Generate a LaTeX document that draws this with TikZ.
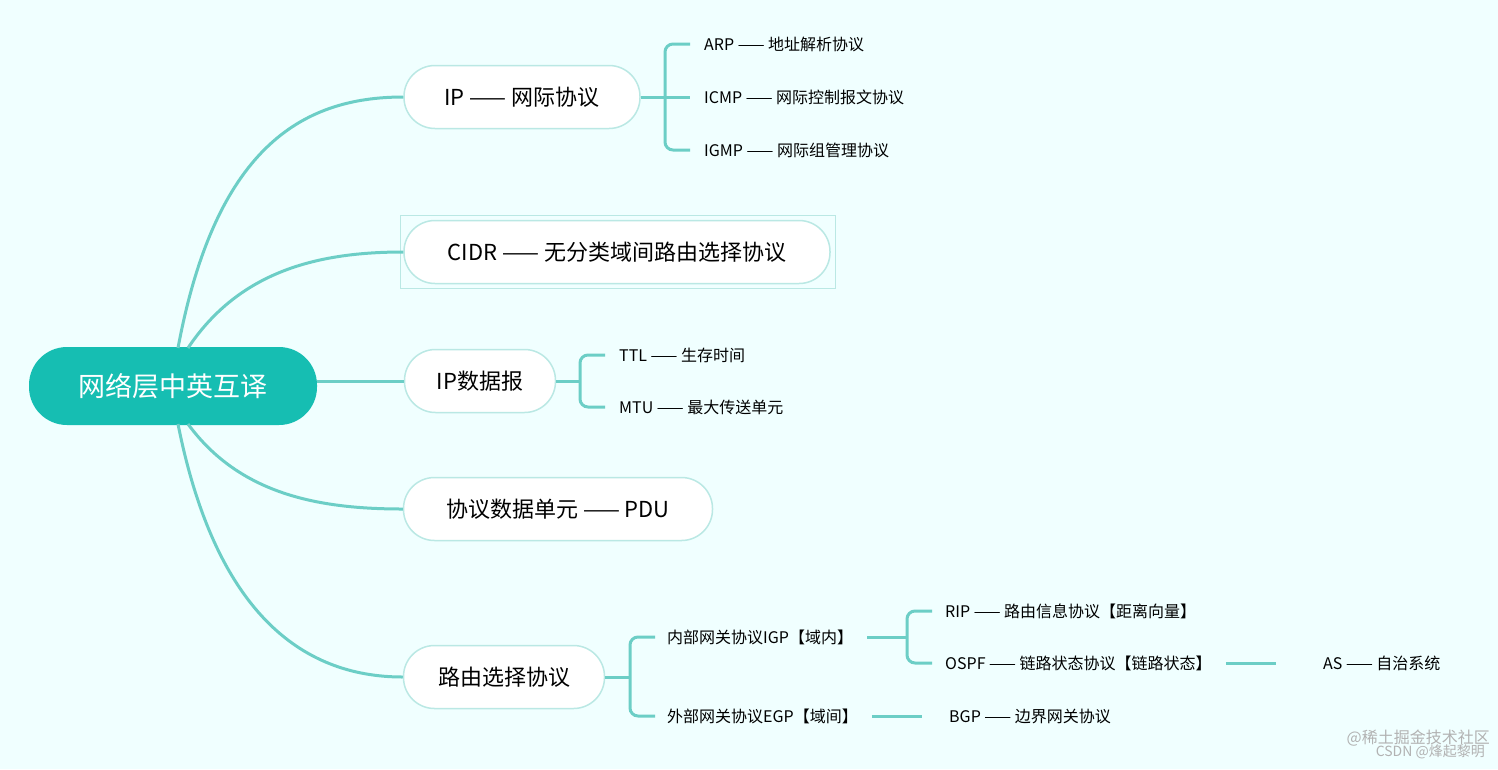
\documentclass[tikz,border=0pt]{standalone}
\usepackage{fontspec}
\setmainfont{Noto Sans CJK SC}
\definecolor{bg}{RGB}{240,255,255}
\definecolor{rootc}{RGB}{22,190,178}
\definecolor{linec}{RGB}{108,206,198}
\definecolor{bord}{RGB}{186,232,228}
\begin{document}
\begin{tikzpicture}[x=1pt,y=-1pt,
  br/.style={draw=linec,line width=3pt},
  sub/.style={draw=bord,line width=1.5pt,fill=white,rounded corners=31pt,minimum height=63pt,font=\fontsize{22}{26}\selectfont,inner xsep=16pt},
  leaf/.style={anchor=west,font=\fontsize{16}{19}\selectfont,inner sep=0pt}]
\fill[bg] (0,0) rectangle (1498,769);
\useasboundingbox (0,0) rectangle (1498,769);
\node[fill=rootc,rounded corners=38pt,minimum width=288pt,minimum height=78pt,text=white,font=\fontsize{27}{32}\selectfont] (root) at (173,386) {网络层中英互译};
\node[sub,minimum width=236pt] (ip) at (522,97) {IP —— 网际协议};
\node[draw=bord,line width=0.8pt,minimum width=435pt,minimum height=73pt] (sel) at (617.5,251.5) {};
\node[sub,minimum width=426pt] (cidr) at (617,252) {CIDR —— 无分类域间路由选择协议};
\node[sub,minimum width=151pt] (dg) at (480,381) {IP数据报};
\node[sub,minimum width=309pt] (pdu) at (558,509) {协议数据单元 —— PDU};
\node[sub,minimum width=201pt] (rt) at (504,677) {路由选择协议};
\draw[br] (178,348) .. controls (215,150) and (300,97) .. (ip.west);
\draw[br] (188,348) .. controls (240,270) and (320,252) .. (cidr.west);
\draw[br] (root.east |- dg.west) -- (dg.west);
\draw[br] (188,424) .. controls (240,495) and (320,509) .. (pdu.west);
\draw[br] (178,424) .. controls (215,610) and (300,677) .. (rt.west);
% IP leaves
\node[leaf] (arp) at (704,44) {ARP —— 地址解析协议};
\node[leaf] (icmp) at (704,97) {ICMP —— 网际控制报文协议};
\node[leaf] (igmp) at (704,150) {IGMP —— 网际组管理协议};
\draw[br] (ip.east) -- (665,97);
\draw[br,rounded corners=8pt] (690,44) -- (665,44) -- (665,150) -- (690,150);
\draw[br] (665,97) -- (690,97);
% datagram leaves
\node[leaf] (ttl) at (619,355) {TTL —— 生存时间};
\node[leaf] (mtu) at (619,407) {MTU —— 最大传送单元};
\draw[br] (dg.east) -- (580,381);
\draw[br,rounded corners=8pt] (605,355) -- (580,355) -- (580,407) -- (605,407);
% routing
\node[leaf] (igp) at (667,637) {内部网关协议IGP【域内】};
\node[leaf] (egp) at (667,716) {外部网关协议EGP【域间】};
\draw[br] (rt.east) -- (630,677);
\draw[br,rounded corners=8pt] (655,637) -- (630,637) -- (630,716) -- (655,716);
\node[leaf] (rip) at (945,611) {RIP —— 路由信息协议【距离向量】};
\node[leaf] (ospf) at (945,663) {OSPF —— 链路状态协议【链路状态】};
\coordinate (ij) at (907,637);
\draw[br] (igp.east) ++(14,0) -- (ij);
\draw[br,rounded corners=8pt] (932,611) -- (907,611) -- (907,663) -- (932,663);
\node[leaf] (as) at (1323,663) {AS —— 自治系统};
\draw[br] (ospf.east) ++(14,0) -- ++(50,0);
\node[leaf] (bgp) at (949,716) {BGP —— 边界网关协议};
\draw[br] (egp.east) ++(14,0) -- ++(50,0);
\node[anchor=east,text=gray!60,font=\fontsize{16}{18}\selectfont,inner sep=0pt] (wm1) at (1490,738) {@稀土掘金技术社区};
\node[anchor=east,text=gray!60,font=\fontsize{14}{16}\selectfont,inner sep=0pt] (wm2) at (1485,752) {CSDN @烽起黎明};
\end{tikzpicture}
\end{document}
